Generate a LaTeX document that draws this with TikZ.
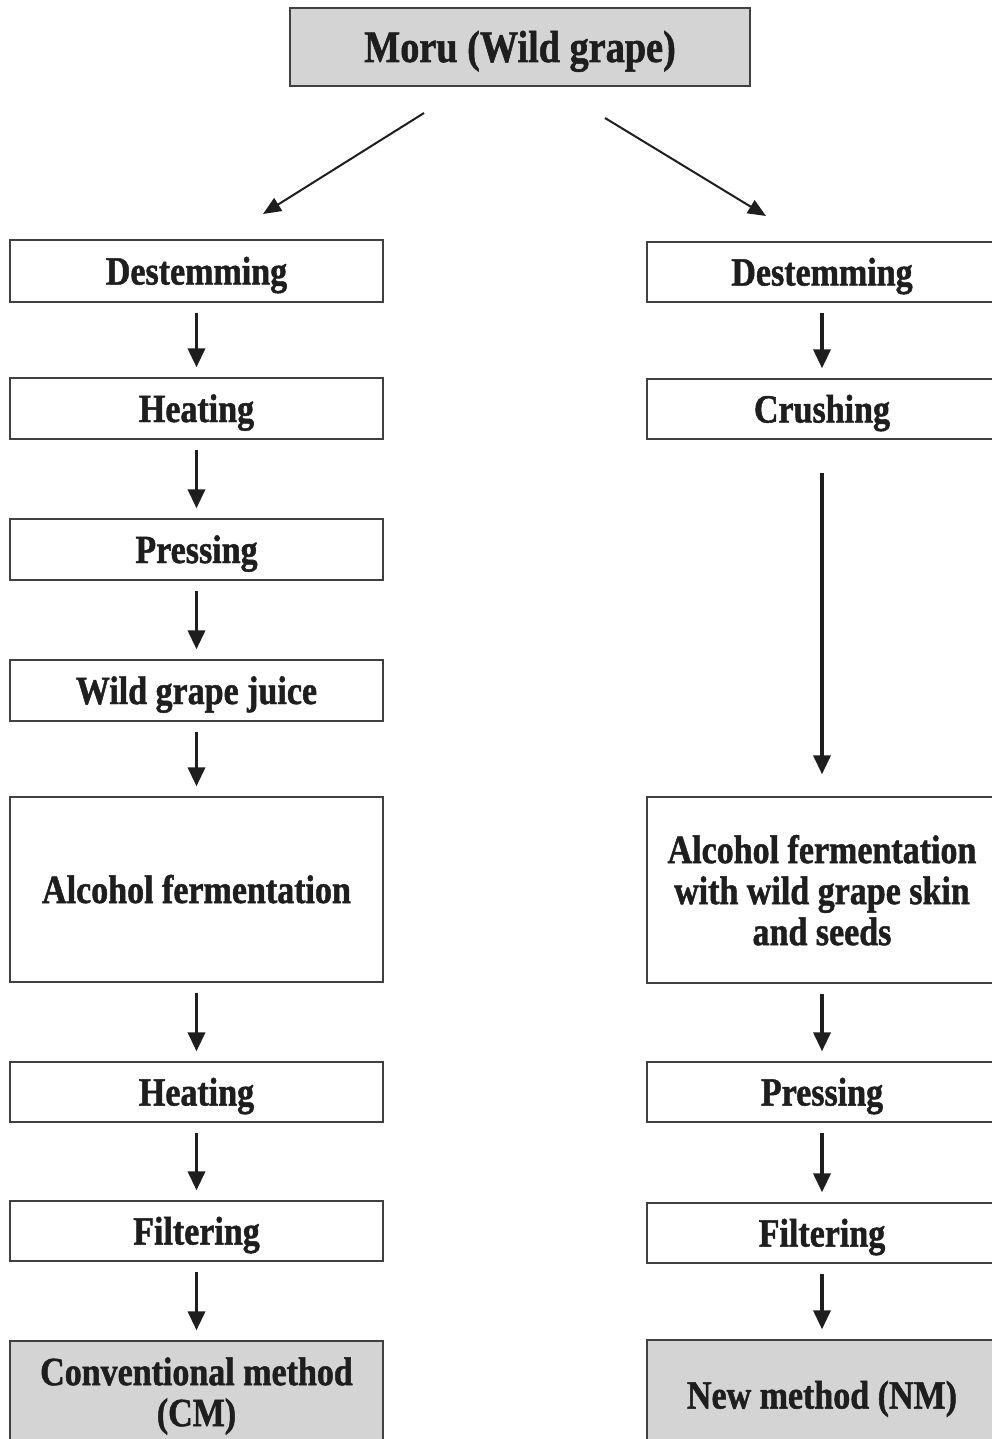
\documentclass[tikz,border=0pt]{standalone}
\usepackage{fontspec}
\setmainfont{Liberation Serif}[FakeStretch=0.85,BoldFeatures={FakeStretch=0.85,FakeBold=1.2}]
\usetikzlibrary{arrows.meta}
\definecolor{boxgray}{HTML}{D4D4D4}
\definecolor{ink}{HTML}{1E1E1E}
\begin{document}
\begin{tikzpicture}[x=1pt,y=-1pt,
  stepbox/.style={draw=ink!85,line width=1.3pt,rectangle,inner sep=0pt,align=center,
    font=\fontsize{40}{41}\selectfont\bfseries,text=ink},
  oneline/.style={text height=27pt,text depth=0pt},
  lbox/.style={stepbox,minimum width=373pt},
  rbox/.style={stepbox,minimum width=350pt},
  grayfill/.style={fill=boxgray},
  flow/.style={draw=ink,line width=3.6pt,-{Triangle[width=17pt,length=19pt]},shorten <=10pt,shorten >=10pt},
  diag/.style={draw=ink,line width=2pt,-{Triangle[width=15pt,length=18pt]}}]
\useasboundingbox (0,0) rectangle (992,1439);
% top
\node[stepbox,oneline,grayfill,minimum width=460pt,minimum height=78pt,font=\fontsize{45}{46}\selectfont\bfseries,text height=30pt] (top) at (520,47) {Moru (Wild grape)};
% left column
\node[lbox,oneline,minimum height=62pt] (l1) at (196.5,271) {Destemming};
\node[lbox,oneline,minimum height=61pt] (l2) at (196.5,408.5) {Heating};
\node[lbox,oneline,minimum height=61pt] (l3) at (196.5,549.5) {Pressing};
\node[lbox,oneline,minimum height=61pt] (l4) at (196.5,690.5) {Wild grape juice};
\node[lbox,oneline,minimum height=185pt] (l5) at (196.5,889.5) {Alcohol fermentation};
\node[lbox,oneline,minimum height=60pt] (l6) at (196.5,1092) {Heating};
\node[lbox,oneline,minimum height=60pt] (l7) at (196.5,1231) {Filtering};
\node[lbox,grayfill,minimum height=110pt] (l8) at (196.5,1396) {Conventional method\\(CM)};
% right column
\node[rbox,oneline,minimum height=60pt] (r1) at (822,272) {Destemming};
\node[rbox,oneline,minimum height=60pt] (r2) at (822,409) {Crushing};
\node[rbox,minimum height=186pt,text depth=-10pt] (r3) at (822,890) {Alcohol fermentation\\with wild grape skin\\and seeds};
\node[rbox,oneline,minimum height=60pt] (r4) at (822,1092) {Pressing};
\node[rbox,oneline,minimum height=60pt] (r5) at (822,1233) {Filtering};
\node[rbox,oneline,grayfill,minimum height=110pt] (r6) at (822,1395) {New method (NM)};
% diagonal arrows
\coordinate (aL1) at (424,113);
\coordinate (aL2) at (263,214);
\coordinate (aR1) at (605,118);
\coordinate (aR2) at (766,216);
\draw[diag] (aL1) -- (aL2);
\draw[diag] (aR1) -- (aR2);
% vertical arrows
\draw[flow] (l1) -- (l2);
\draw[flow] (l2) -- (l3);
\draw[flow] (l3) -- (l4);
\draw[flow] (l4) -- (l5);
\draw[flow] (l5) -- (l6);
\draw[flow] (l6) -- (l7);
\draw[flow] (l7) -- (l8);
\draw[flow] (r1) -- (r2);
\draw[flow,shorten <=33pt,shorten >=22pt] (r2) -- (r3);
\draw[flow] (r3) -- (r4);
\draw[flow] (r4) -- (r5);
\draw[flow] (r5) -- (r6);
\end{tikzpicture}
\end{document}
